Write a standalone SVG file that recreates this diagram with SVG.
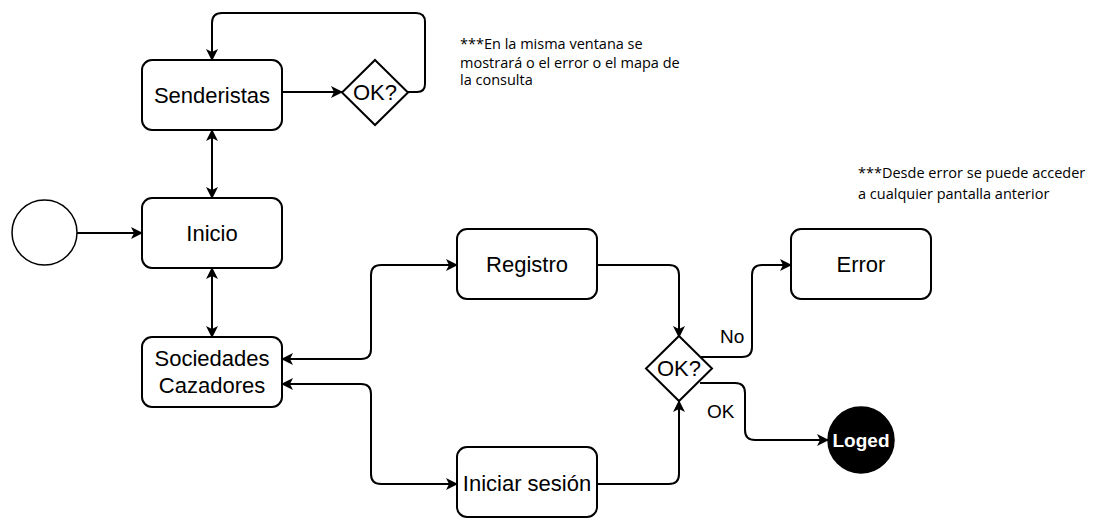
<svg xmlns="http://www.w3.org/2000/svg" width="1094" height="518" viewBox="0 0 1094 518">
  <defs>
    <marker id="arrow" viewBox="0 0 12 12" refX="11" refY="6" markerWidth="12" markerHeight="12" markerUnits="userSpaceOnUse" orient="auto-start-reverse">
      <path d="M0,0 L12,6 L0,12 L3,6 Z" fill="#000"/>
    </marker>
    <style>
      .box { fill: #fff; stroke: #000; stroke-width: 2; }
      .lbl { font-family: "Liberation Sans", Arial, sans-serif; font-size: 22px; fill: #000; text-anchor: middle; }
      .edge { fill: none; stroke: #000; stroke-width: 2; }
      .note { font-family: "Open Sans", "DejaVu Sans", sans-serif; font-size: 14.5px; fill: #000; }
      .elbl { font-family: "Liberation Sans", Arial, sans-serif; font-size: 19px; fill: #000; }
    </style>
  </defs>
  <rect width="1094" height="518" fill="#fff"/>

  <!-- connectors -->
  <g id="connectors">
    <path class="edge" d="M282,92 L342,92" marker-end="url(#arrow)"/>
    <path class="edge" d="M408,92 L417,92 Q425,92 425,84 L425,22 Q425,13 416,13 L222,13 Q212,13 212,23 L212,60" marker-end="url(#arrow)"/>
    <path class="edge" d="M212,130 L212,198" marker-start="url(#arrow)" marker-end="url(#arrow)"/>
    <path class="edge" d="M77,233 L142,233" marker-end="url(#arrow)"/>
    <path class="edge" d="M212,268 L212,337" marker-start="url(#arrow)" marker-end="url(#arrow)"/>
    <path class="edge" d="M282,359 L361,359 Q371,359 371,349 L371,275 Q371,265 381,265 L457,265" marker-start="url(#arrow)" marker-end="url(#arrow)"/>
    <path class="edge" d="M282,384 L361,384 Q371,384 371,394 L371,474 Q371,484 381,484 L457,484" marker-start="url(#arrow)" marker-end="url(#arrow)"/>
    <path class="edge" d="M597,265 L669,265 Q679,265 679,275 L679,337" marker-end="url(#arrow)"/>
    <path class="edge" d="M597,484 L669,484 Q679,484 679,474 L679,401" marker-end="url(#arrow)"/>
    <path class="edge" d="M700,357 L742,357 Q752,357 752,347 L752,275 Q752,265 762,265 L791,265" marker-end="url(#arrow)"/>
    <path class="edge" d="M700,383 L735,383 Q745,383 745,393 L745,430 Q745,440 755,440 L828,440" marker-end="url(#arrow)"/>
    <text class="elbl" x="720" y="343">No</text>
    <text class="elbl" x="707" y="418">OK</text>
  </g>

  <g id="start">
    <circle cx="44.5" cy="232.5" r="32.5" fill="#fff" stroke="#000" stroke-width="1.5"/>
  </g>

  <g id="senderistas">
    <rect class="box" x="142" y="60" width="140" height="70" rx="10"/>
    <text class="lbl" x="212" y="103">Senderistas</text>
  </g>

  <g id="ok-senderistas">
    <polygon class="box" stroke-width="1.5" points="375,60 408,92.5 375,125 342,92.5"/>
    <text class="lbl" x="375" y="100">OK?</text>
  </g>

  <g id="inicio">
    <rect class="box" x="142" y="198" width="140" height="70" rx="10"/>
    <text class="lbl" x="212" y="241">Inicio</text>
  </g>

  <g id="sociedades">
    <rect class="box" x="142" y="337" width="140" height="70" rx="10"/>
    <text class="lbl" x="212" y="366">Sociedades</text>
    <text class="lbl" x="212" y="393">Cazadores</text>
  </g>

  <g id="registro">
    <rect class="box" x="457" y="229" width="140" height="70" rx="10"/>
    <text class="lbl" x="527" y="272">Registro</text>
  </g>

  <g id="iniciar-sesion">
    <rect class="box" x="457" y="447" width="140" height="70" rx="10"/>
    <text class="lbl" x="527" y="491">Iniciar sesión</text>
  </g>

  <g id="ok-login">
    <polygon class="box" stroke-width="1.5" points="679,336 712,368.5 679,401 646,368.5"/>
    <text class="lbl" x="679" y="376">OK?</text>
  </g>

  <g id="error">
    <rect class="box" x="791" y="229" width="140" height="70" rx="10"/>
    <text class="lbl" x="861" y="272">Error</text>
  </g>

  <g id="loged">
    <circle cx="861" cy="440" r="33" fill="#000" stroke="#000" stroke-width="1.5"/>
    <text x="861" y="447" text-anchor="middle" font-family="'Liberation Sans', Arial, sans-serif" font-size="19" font-weight="bold" fill="#fff">Loged</text>
  </g>

  <g id="note-ventana">
    <text class="note" x="460" y="49">***En la misma ventana se</text>
    <text class="note" x="460" y="68">mostrará o el error o el mapa de</text>
    <text class="note" x="460" y="85">la consulta</text>
  </g>

  <g id="note-error">
    <text class="note" x="858" y="178">***Desde error se puede acceder</text>
    <text class="note" x="858" y="199">a cualquier pantalla anterior</text>
  </g>
</svg>
